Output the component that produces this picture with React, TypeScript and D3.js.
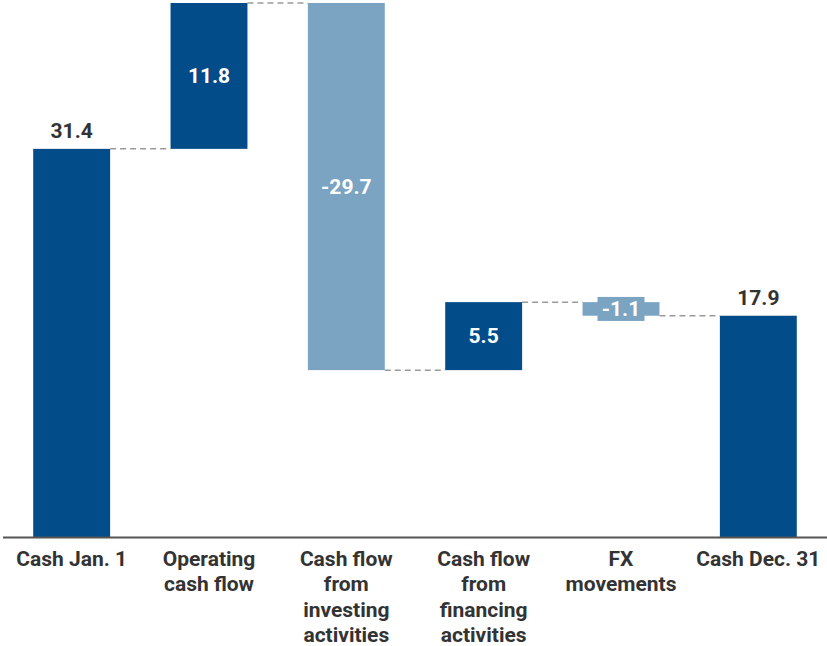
import React from "react";
import * as d3 from "d3";

const categories: string[][] = [
  ["Cash Jan. 1"],
  ["Operating", "cash flow"],
  ["Cash flow", "from", "investing", "activities"],
  ["Cash flow", "from", "financing", "activities"],
  ["FX", "movements"],
  ["Cash Dec. 31"],
];
const deltas: number[] = [31.4, 11.8, -29.7, 5.5, -1.1, 17.9];
const kinds: string[] = ["total", "delta", "delta", "delta", "delta", "total"];
const valueLabels: string[] = ["31.4", "11.8", "-29.7", "5.5", "-1.1", "17.9"];

const W = 827;
const H = 646;
const DARK = "#024c89";
const LIGHT = "#7ba4c3";
const FONT = "Roboto, 'Noto Sans', sans-serif";
const FS = 21;

export default function App() {
  // running totals for waterfall segments
  let running = 0;
  const bars = deltas.map((v, i) => {
    let y0: number, y1: number;
    if (kinds[i] === "total") {
      y0 = 0;
      y1 = v;
      running = v;
    } else {
      y0 = running;
      y1 = running + v;
      running = y1;
    }
    return { i, v, y0, y1, end: running };
  });

  const x = d3
    .scaleBand<number>()
    .domain(bars.map((b) => b.i))
    .range([3, W])
    .paddingInner(0.44)
    .paddingOuter(0.22);
  const maxVal = d3.max(bars, (b) => Math.max(b.y0, b.y1)) as number;
  const y = d3.scaleLinear().domain([0, maxVal]).range([537, 3]);
  const bw = x.bandwidth();

  return (
    <div style={{ position: "absolute", left: 0, top: 0 }}>
      <svg width={W} height={H} style={{ display: "block" }}>
        {/* connectors */}
        {bars.slice(0, -1).map((b) => {
          const x1 = (x(b.i) as number) + bw;
          const x2 = x(b.i + 1) as number;
          return (
            <line
              key={"c" + b.i}
              x1={x1}
              x2={x2}
              y1={y(b.end)}
              y2={y(b.end)}
              stroke="#9a9a9a"
              strokeWidth={1.5}
              strokeDasharray="6,4"
            />
          );
        })}
        {/* bars */}
        {bars.map((b) => {
          const top = y(Math.max(b.y0, b.y1));
          const bot = y(Math.min(b.y0, b.y1));
          const fill = b.v < 0 ? LIGHT : DARK;
          return (
            <rect
              key={"b" + b.i}
              x={x(b.i)}
              y={top}
              width={bw}
              height={bot - top}
              fill={fill}
            />
          );
        })}
        {/* value labels */}
        {bars.map((b) => {
          const cx = (x(b.i) as number) + bw / 2;
          const top = y(Math.max(b.y0, b.y1));
          const bot = y(Math.min(b.y0, b.y1));
          const label = valueLabels[b.i];
          if (kinds[b.i] === "total") {
            return (
              <text
                key={"l" + b.i}
                x={cx}
                y={top - 11}
                textAnchor="middle"
                fontFamily={FONT}
                fontWeight="bold"
                fontSize={FS}
                fill="#333"
              >
                {label}
              </text>
            );
          }
          const cy = (top + bot) / 2;
          const small = bot - top < 26;
          return (
            <g key={"l" + b.i}>
              {small && (
                <rect
                  x={cx - 23.5}
                  y={cy - 12}
                  width={47}
                  height={24}
                  fill={b.v < 0 ? LIGHT : DARK}
                />
              )}
              <text
                x={cx}
                y={cy + 7}
                textAnchor="middle"
                fontFamily={FONT}
                fontWeight="bold"
                fontSize={FS}
                fill="#fff"
              >
                {label}
              </text>
            </g>
          );
        })}
        {/* baseline */}
        <line x1={3} x2={W} y1={537.5} y2={537.5} stroke="#555" strokeWidth={2} />
        {/* category labels */}
        {categories.map((lines, i) => (
          <text
            key={"x" + i}
            textAnchor="middle"
            fontFamily={FONT}
            fontWeight="bold"
            fontSize={FS}
            fill="#333"
          >
            {lines.map((ln, j) => (
              <tspan key={j} x={(x(i) as number) + bw / 2} y={566 + j * 25.3}>
                {ln}
              </tspan>
            ))}
          </text>
        ))}
      </svg>
    </div>
  );
}
